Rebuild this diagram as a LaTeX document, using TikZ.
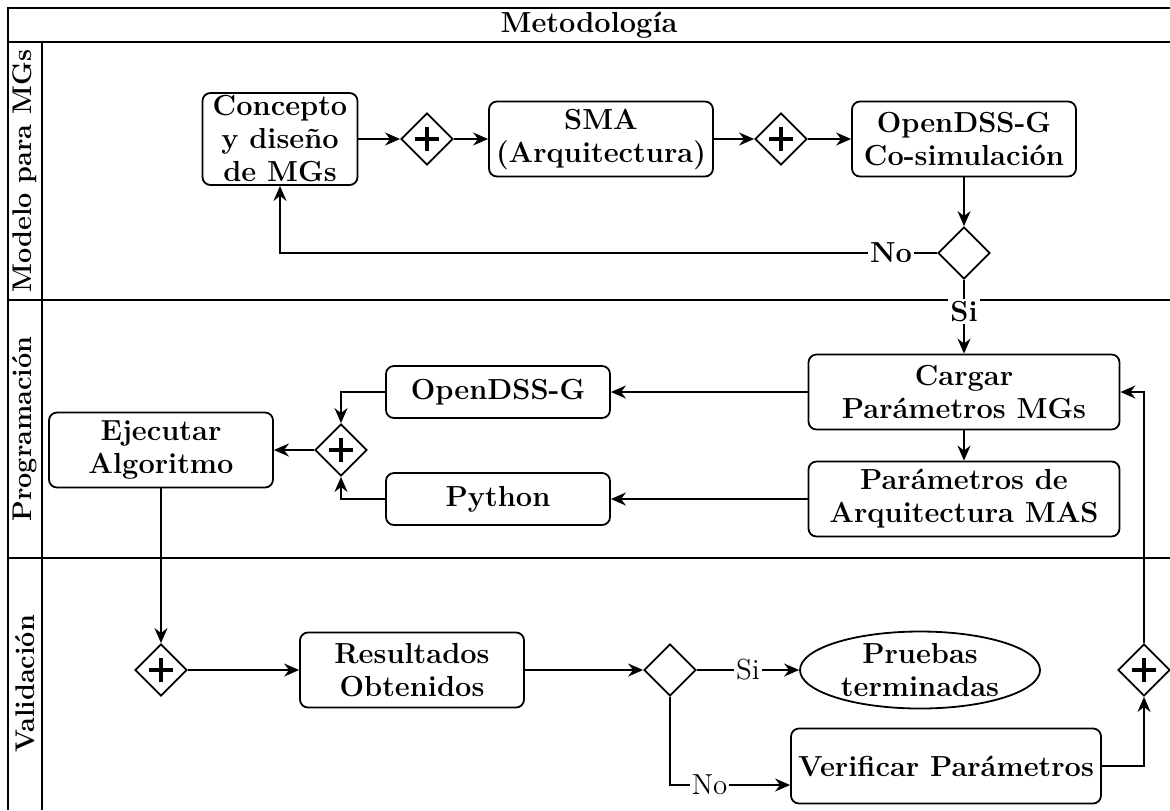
\documentclass[tikz,border=0pt]{standalone}
\usepackage{tikz}
\usetikzlibrary{shapes.geometric,arrows.meta}

\begin{document}
\begin{tikzpicture}[x=0.5pt, y=-0.5pt, line width=0.9pt,
    every node/.style={font=\fontsize{14.5}{16.5}\selectfont\bfseries, align=center},
    task/.style={draw, rounded corners=4pt, inner sep=0pt, minimum width=112pt, minimum height=37.5pt},
    gate/.style={diamond, draw, aspect=1, inner sep=0pt, minimum width=26pt, minimum height=26pt},
    plusgate/.style={gate, path picture={
        \draw[line width=2.2pt] ([xshift=-6pt]path picture bounding box.center) -- ([xshift=6pt]path picture bounding box.center);
        \draw[line width=2.2pt] ([yshift=-6pt]path picture bounding box.center) -- ([yshift=6pt]path picture bounding box.center);}},
    flow/.style={-{Stealth[length=7.5pt,width=6.5pt]}},
    lbl/.style={fill=white, inner sep=1pt},
    thin lbl/.style={lbl, font=\fontsize{14.5}{16.5}\selectfont\mdseries},
    lane/.style={rotate=90, font=\fontsize{13.5}{16}\selectfont\bfseries}]
    \useasboundingbox (0,0) rectangle (1170,810);

    % Pool and lanes
    \draw (1170,8) -- (8,8) -- (8,810);
    \draw (8,42) -- (1170,42);
    \draw (42,42) -- (42,810);
    \draw (8,300) -- (1170,300);
    \draw (8,558) -- (1170,558);
    \node (titulo) at (589,25) {Metodología};
    \node[lane] (lmod) at (25,171) {Modelo para MGs};
    \node[lane] (lprog) at (25,429) {Programación};
    \node[lane] (lval) at (25,684) {Validación};

    % Modelo para MGs
    \node[task, minimum width=77.5pt, minimum height=46pt] (concepto) at (280,139) {Concepto\\y diseño\\de MGs};
    \node[plusgate] (g1) at (427,139) {};
    \node[task] (sma) at (601,139) {SMA\\(Arquitectura)};
    \node[plusgate] (g2) at (781,139) {};
    \node[task] (cosim) at (964,139) {OpenDSS-G\\Co-simulación};
    \node[gate] (d1) at (964,253) {};

    % Programacion
    \node[task, minimum width=155.5pt] (cargar) at (964,392) {Cargar\\Parámetros MGs};
    \node[task, minimum width=155.5pt] (param) at (964,499) {Parámetros de\\Arquitectura MAS};
    \node[task, minimum height=26pt] (odss) at (498,392) {OpenDSS-G};
    \node[task, minimum height=26pt] (python) at (498,499) {Python};
    \node[plusgate] (g3) at (341,450) {};
    \node[task] (ejecutar) at (161,450) {Ejecutar\\Algoritmo};

    % Validacion
    \node[plusgate] (g4) at (161,670) {};
    \node[task] (result) at (412,670) {Resultados\\Obtenidos};
    \node[gate] (d2) at (670,670) {};
    \node[ellipse, draw, inner sep=0pt, minimum width=120pt, minimum height=38.5pt] (pruebas) at (920,670) {Pruebas\\terminadas};
    \node[task, minimum width=155pt] (verif) at (946,766) {Verificar Parámetros};
    \node[plusgate] (g5) at (1144,670) {};

    % Flows
    \draw[flow] (concepto) -- (g1);
    \draw[flow] (g1) -- (sma);
    \draw[flow] (sma) -- (g2);
    \draw[flow] (g2) -- (cosim);
    \draw[flow] (cosim) -- (d1);
    \draw[flow] (d1.west) -| node[pos=0.035, lbl] (no1) {No} (concepto.south);
    \draw[flow] (d1) -- node[pos=0.43, lbl] (si1) {Si} (cargar);
    \draw[flow] (cargar) -- (param);
    \draw[flow] (cargar) -- (odss);
    \draw[flow] (param) -- (python);
    \draw[flow] (odss.west) -| (g3.north);
    \draw[flow] (python.west) -| (g3.south);
    \draw[flow] (g3) -- (ejecutar);
    \draw[flow] (ejecutar) -- (g4);
    \draw[flow] (g4) -- (result);
    \draw[flow] (result) -- (d2);
    \draw[flow] (d2) -- node[thin lbl] (si2) {Si} (pruebas);
    \draw[flow] (d2.south) |- node[pos=0.665, thin lbl] (no2) {No} ([yshift=-9.5pt]verif.west);
    \draw[flow] (verif.east) -| (g5.south);
    \draw[flow] (g5.north) |- (cargar.east);
\end{tikzpicture}
\end{document}
